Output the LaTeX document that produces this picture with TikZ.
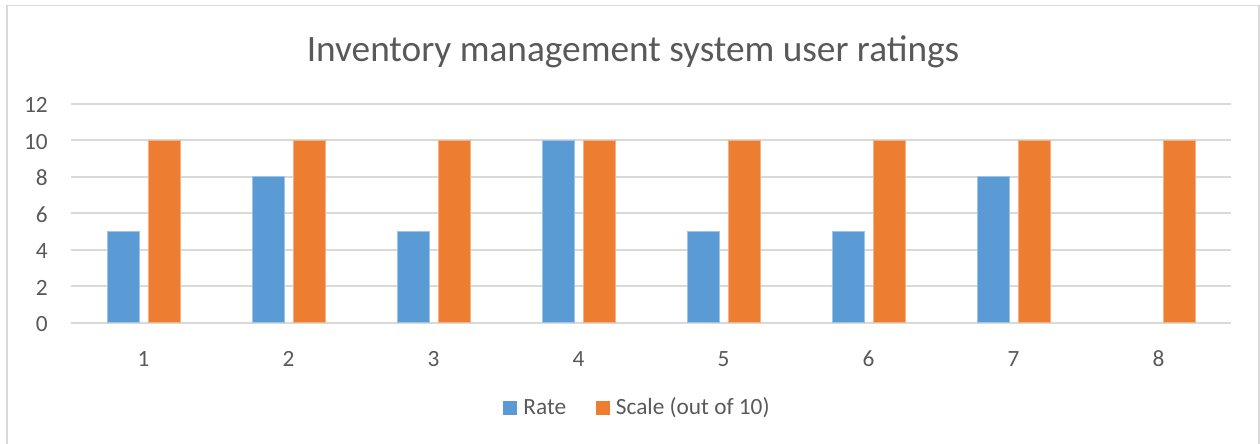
\documentclass[tikz,border=0pt]{standalone}
\usepackage{fontspec}
\setmainfont{Carlito}
\usepackage{tikz}
\usetikzlibrary{positioning}
\definecolor{ratebl}{HTML}{5B9BD5}
\definecolor{scaleor}{HTML}{ED7D31}
\definecolor{gridgr}{HTML}{D9D9D9}
\definecolor{labgr}{HTML}{595959}

\begin{document}
\begin{tikzpicture}[x=1pt, y=-1pt,
        lbl/.style={text=labgr, font=\fontsize{23.3}{28}\selectfont, inner sep=0pt},
        ratebar/.style={fill=ratebl, draw=ratebl!60!white, line width=0.8pt},
        scalebar/.style={fill=scaleor, draw=scaleor!60!white, line width=0.8pt}]
        \useasboundingbox (0,0) rectangle (1260,444);
        \draw[gridgr, line width=1.6pt] (7,460) -- (7,5.5) -- (1259,5.5) -- (1259,460);

        \node (title) [lbl, font=\fontsize{37.3}{44}\selectfont, anchor=base] at (633,61) {Inventory management system user ratings};

        % gridlines, y labels
        \foreach \v in {0,2,...,12} {
            \draw[gridgr, line width=1.6pt] (71,{322.7-18.25*\v}) -- (1231,{322.7-18.25*\v});
            \node (y\v) [lbl, anchor=base east] at (48,{331.5-18.25*\v}) {\v};
        }

        % bars
        \foreach \i/\r in {1/5,2/8,3/5,4/10,5/5,6/5,7/8}
            \filldraw[ratebar] ({107+145*(\i-1)},322.7) rectangle ({139+145*(\i-1)},{322.7-18.25*\r});
        \foreach \i in {1,...,8} {
            \filldraw[scalebar] ({148+145*(\i-1)},322.7) rectangle ({180+145*(\i-1)},140.2);
            \node (x\i) [lbl, anchor=base] at ({143.5+145*(\i-1)},366) {\i};
        }

        % legend
        \node (ratekey) [fill=ratebl, minimum size=14pt, inner sep=0pt] at (510,407.5) {};
        \node (rate) [lbl, anchor=base west] at ([xshift=6pt]ratekey.south east) {Rate};
        \node (scalekey) [fill=scaleor, minimum size=14pt, inner sep=0pt] at (602.5,407.5) {};
        \node (scale) [lbl, anchor=base west] at ([xshift=6pt]scalekey.south east) {Scale (out of 10)};
    \end{tikzpicture}
\end{document}
